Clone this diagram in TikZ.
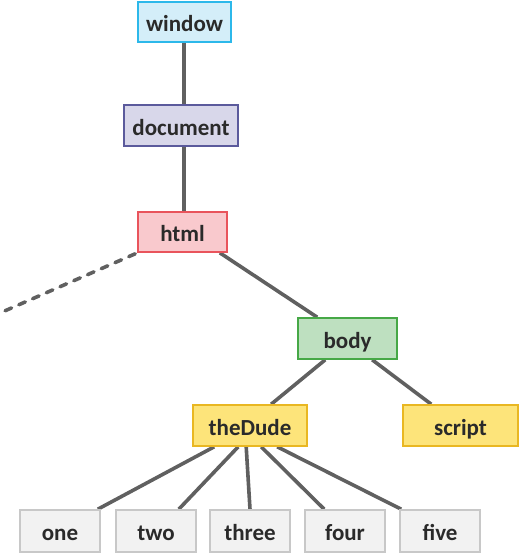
\documentclass[tikz,border=0pt]{standalone}
\usepackage{fontspec}
\setmainfont{Carlito}
\usetikzlibrary{calc,backgrounds}
\definecolor{lnc}{HTML}{606060}
\definecolor{txt}{HTML}{2A2A2A}
\definecolor{winF}{HTML}{D4EEF9}\definecolor{winD}{HTML}{2CB8EA}
\definecolor{docF}{HTML}{D8D7EA}\definecolor{docD}{HTML}{5B5A9C}
\definecolor{htmF}{HTML}{F9C9CD}\definecolor{htmD}{HTML}{E9545C}
\definecolor{bodF}{HTML}{BEE0C0}\definecolor{bodD}{HTML}{46A846}
\definecolor{yelF}{HTML}{FDE47A}\definecolor{yelD}{HTML}{E9B722}
\definecolor{gryF}{HTML}{F2F2F2}\definecolor{gryD}{HTML}{C8C8C8}
\begin{document}
\begin{tikzpicture}[x=1pt,y=-1pt,
  box/.style={draw,line width=1.6pt,inner sep=0pt,text height=19pt,text depth=0pt,font=\bfseries\fontsize{23}{25}\selectfont,text=txt},
  wire/.style={draw=lnc,line width=3.6pt}]
\useasboundingbox (0,0) rectangle (520,554);
\node[box,fill=winF,draw=winD,minimum width=93,minimum height=40] (window) at (184.5,22) {window};
\node[box,fill=docF,draw=docD,minimum width=114,minimum height=41] (document) at (181,125.5) {document};
\node[box,fill=htmF,draw=htmD,minimum width=89,minimum height=40] (html) at (182.5,232) {html};
\node[box,fill=bodF,draw=bodD,minimum width=99,minimum height=41] (body) at (347.5,338.5) {body};
\node[box,fill=yelF,draw=yelD,minimum width=114,minimum height=41] (dude) at (250,425.5) {theDude};
\node[box,fill=yelF,draw=yelD,minimum width=115,minimum height=41] (script) at (460.5,425.5) {script};
\foreach \n/\t/\x in {one/one/60,two/two/156,three/three/250,four/four/345,five/five/440}
  \node[box,fill=gryF,draw=gryD,minimum width=80,minimum height=42] (\n) at (\x,531) {\t};
\coordinate (dashend) at (0,313);
\coordinate (wd) at ($(window.south)+(-0.5,0)$);
\coordinate (dh) at ($(document.south)+(3,0)$);
\begin{scope}[on background layer]
\draw[wire] (wd) -- (wd |- document.north);
\draw[wire] (dh) -- (dh |- html.north);
\draw[wire] ($(html.south east)+(-8,0)$) -- ($(body.north west)+(20,0)$);
\draw[wire,line cap=round,dash pattern=on 7pt off 8pt] ($(html.south west)+(-2,1)$) -- (dashend);
\draw[wire] ($(body.south west)+(28,0)$) -- ($(dude.north west)+(79,0)$);
\draw[wire] ($(body.south west)+(75,0)$) -- ($(script.north west)+(29,0)$);
\draw[wire] ($(dude.south west)+(22,0)$) -- ($(one.north east)+(-3,0)$);
\draw[wire] ($(dude.south west)+(46,0)$) -- ($(two.north east)+(-18,0)$);
\draw[wire] ($(dude.south west)+(54,0)$) -- (three.north);
\draw[wire] ($(dude.south west)+(69,0)$) -- ($(four.north west)+(20,0)$);
\draw[wire] ($(dude.south west)+(85,0)$) -- ($(five.north west)+(2,0)$);
\end{scope}
\end{tikzpicture}
\end{document}
